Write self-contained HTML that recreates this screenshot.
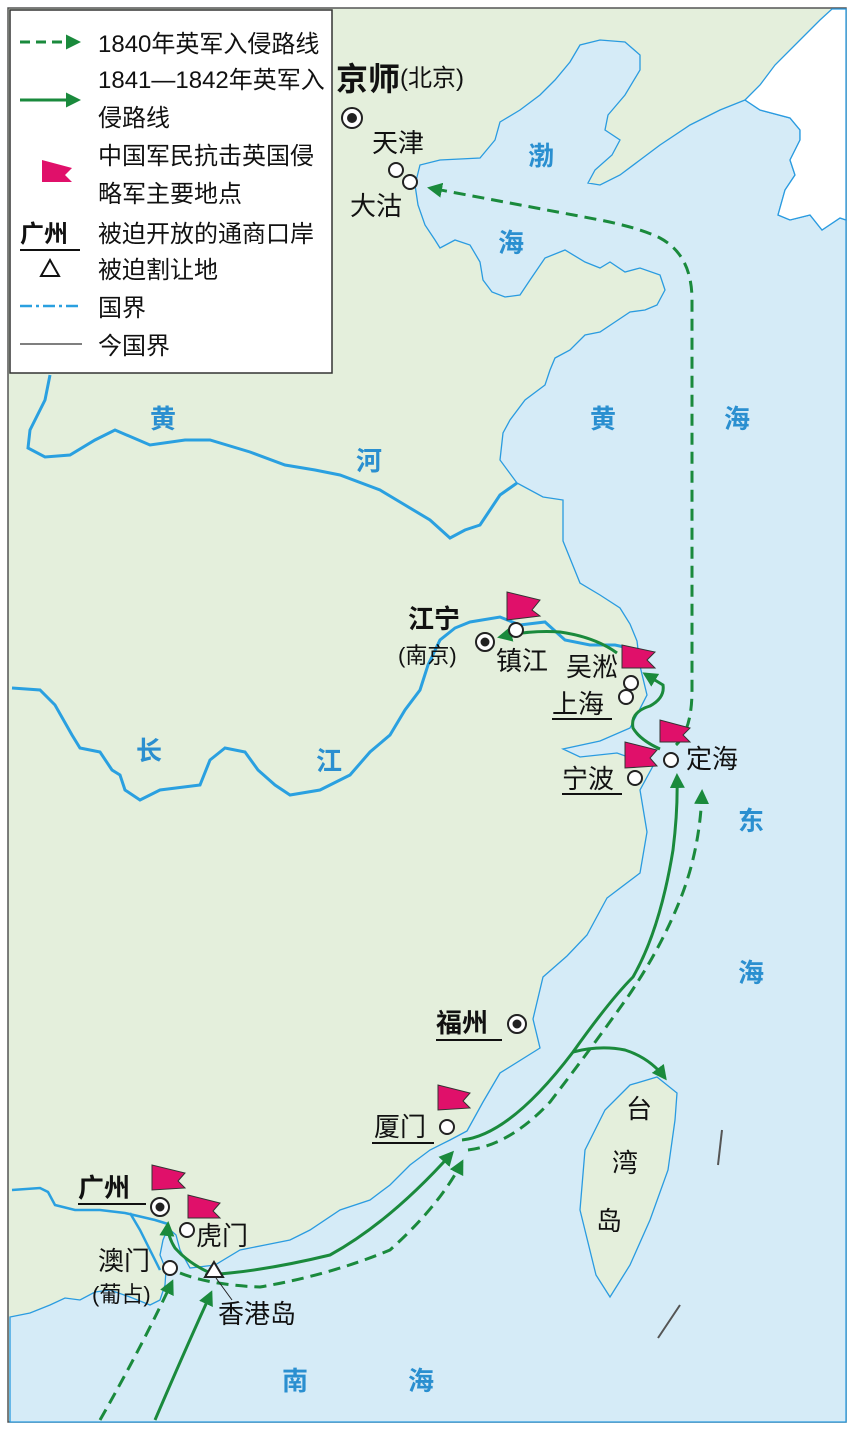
<!DOCTYPE html>
<html><head><meta charset="utf-8"><style>
body{margin:0;background:#fff}
svg{display:block}
text{font-family:"Liberation Sans","Noto Sans CJK SC",sans-serif}
</style></head><body>
<svg width="854" height="1430" viewBox="0 0 854 1430" xmlns="http://www.w3.org/2000/svg">
<defs>
<marker id="ar" viewBox="0 0 10 10" refX="8" refY="5" markerWidth="5" markerHeight="5" orient="auto"><path d="M0,0L10,5L0,10z" fill="#1a8a3c"/></marker>
</defs>
<rect x="0" y="0" width="854" height="1430" fill="#fff"/>
<rect x="8" y="8" width="838" height="1414" fill="#e4efdc" stroke="#555" stroke-width="1.5"/>
<!-- sea -->
<path d="M415,185 L420,165 L440,160 L480,158 L495,140 L500,122 L520,110 L540,95 L555,80 L570,62 L580,45 L600,40 L625,42 L640,55 L640,70 L625,95 L608,115 L605,130 L620,140 L612,155 L595,170 L588,183 L600,185 L620,175 L640,160 L660,145 L690,125 L720,110 L745,100 L760,110 L790,118 L800,130 L800,140 L790,160 L795,175 L785,190 L778,215 L790,220 L810,215 L822,230 L840,218 L846,220 L846,1422 L10,1422 L10,1317 L30,1313 L50,1305 L65,1298 L80,1300 L95,1292 L110,1290 L130,1297 L150,1305 L160,1300 L165,1285 L166,1270 L160,1255 L163,1240 L168,1228 L176,1235 L180,1250 L190,1268 L215,1265 L240,1250 L265,1245 L290,1240 L310,1230 L340,1210 L370,1200 L390,1185 L410,1165 L430,1150 L450,1140 L467,1131 L483,1102 L500,1073 L540,1048 L533,1019 L543,977 L567,956 L587,935 L607,898 L640,873 L647,832 L640,790 L653,766 L617,753 L580,757 L563,749 L600,741 L630,728 L647,695 L640,666 L637,641 L630,624 L620,608 L600,595 L580,583 L563,541 L563,500 L543,497 L517,483 L500,460 L503,433 L510,420 L525,400 L545,385 L550,370 L555,358 L570,350 L585,335 L600,332 L615,322 L630,312 L645,310 L657,305 L665,290 L660,275 L640,268 L625,272 L610,262 L600,268 L585,262 L565,250 L545,258 L530,280 L520,295 L505,297 L492,292 L483,280 L480,262 L470,245 L455,240 L440,248 L435,240 L425,225 L418,205 Z" fill="#d5ebf7" stroke="#2a9be0" stroke-width="1.3"/>
<!-- Korea white -->
<path d="M745,100 L760,85 L775,65 L800,40 L820,20 L832,9 L846,9 L846,220 L840,218 L822,230 L810,215 L790,220 L778,215 L785,190 L795,175 L790,160 L800,140 L800,130 L790,118 L760,110 Z" fill="#fff" stroke="#2a9be0" stroke-width="1.3"/>
<!-- Taiwan -->
<path d="M657,1077 L677,1093 L675,1120 L668,1170 L650,1220 L630,1265 L610,1297 L596,1275 L580,1210 L585,1150 L605,1110 L630,1085 Z" fill="#e4efdc" stroke="#2a9be0" stroke-width="1.3"/>
<!-- rivers -->
<path d="M50,375 L45,400 L30,430 L28,448 L45,457 L70,455 L95,440 L115,430 L150,445 L185,440 L210,440 L250,452 L285,465 L315,470 L340,475 L380,490 L405,505 L430,520 L450,538 L465,530 L480,525 L490,510 L500,495 L517,483" fill="none" stroke="#2aa0e0" stroke-width="3"/>
<path d="M12,688 L40,690 L55,705 L72,735 L80,748 L100,752 L112,770 L120,775 L125,790 L140,800 L160,790 L200,785 L210,760 L225,748 L245,752 L258,770 L275,785 L290,795 L320,790 L350,775 L370,752 L390,735 L405,710 L420,690 L428,665 L440,640 L455,628 L470,622 L500,617 L520,625 L545,622 L565,640 L590,645 L615,645 L638,650" fill="none" stroke="#2aa0e0" stroke-width="3"/>
<path d="M12,1190 L40,1188 L48,1192 L55,1205 L75,1210 L100,1210 L125,1213 L155,1220 L168,1224 M130,1213 L140,1230 L150,1250 L160,1270" fill="none" stroke="#2aa0e0" stroke-width="2.5"/>
<line x1="722" y1="1130" x2="718" y2="1165" stroke="#555" stroke-width="2"/>
<line x1="680" y1="1305" x2="658" y2="1338" stroke="#555" stroke-width="2"/>
<!-- routes -->
<g fill="none" stroke="#1a8a3c" stroke-width="3">
<path d="M676,745 Q692,730 692,690 L692,300 Q692,255 660,238 Q640,228 600,220 L430,188" stroke-dasharray="12,7" marker-end="url(#ar)"/>
<path d="M100,1420 Q140,1350 172,1282" stroke-dasharray="12,7" marker-end="url(#ar)"/>
<path d="M180,1273 Q210,1285 260,1287 Q330,1275 390,1250 Q440,1205 462,1162" stroke-dasharray="12,7" marker-end="url(#ar)"/>
<path d="M468,1150 Q510,1145 550,1102 Q590,1050 627,998 Q660,950 680,900 Q700,850 702,792" stroke-dasharray="12,7" marker-end="url(#ar)"/>
<path d="M155,1420 Q185,1350 211,1293" marker-end="url(#ar)"/>
<path d="M205,1275 Q260,1272 330,1255 Q390,1222 452,1153" marker-end="url(#ar)"/>
<path d="M215,1275 Q190,1265 175,1248 Q167,1235 168,1224" marker-end="url(#ar)"/>
<path d="M462,1140 Q510,1135 573,1052 Q610,1000 633,977 Q660,930 673,850 Q678,810 677,776" marker-end="url(#ar)"/>
<path d="M573,1052 Q600,1045 625,1050 Q650,1058 665,1078" marker-end="url(#ar)"/>
<path d="M660,749 Q640,740 633,728 Q630,712 650,706 Q665,698 663,685 L645,674" marker-end="url(#ar)"/>
<path d="M617,653 Q595,637 560,632 Q530,630 500,637" marker-end="url(#ar)"/>
</g>
<!-- flags -->
<g fill="#e0106a" stroke="#333" stroke-width="1">
<path d="M507,620 L507,592 L540,600 L532,610 L540,616 Z"/>
<path d="M622,668 L622,645 L655,652 L647,660 L655,668 Z"/>
<path d="M660,742 L660,720 L690,728 L683,735 L690,742 Z"/>
<path d="M625,768 L625,742 L657,750 L650,758 L657,766 Z"/>
<path d="M438,1110 L438,1085 L470,1093 L463,1101 L470,1108 Z"/>
<path d="M152,1190 L152,1165 L185,1173 L178,1181 L185,1188 Z"/>
<path d="M188,1218 L188,1195 L220,1203 L213,1211 L220,1218 Z"/>
</g>
<!-- cities -->
<g fill="#fff" stroke="#222" stroke-width="2">
<circle cx="352" cy="118" r="10"/><circle cx="352" cy="118" r="4" fill="#222"/>
<circle cx="396" cy="170" r="7"/><circle cx="410" cy="182" r="7"/>
<circle cx="485" cy="642" r="9"/><circle cx="485" cy="642" r="3.5" fill="#222"/>
<circle cx="516" cy="630" r="7"/><circle cx="631" cy="683" r="7"/><circle cx="626" cy="697" r="7"/>
<circle cx="671" cy="760" r="7"/><circle cx="635" cy="778" r="7"/>
<circle cx="517" cy="1024" r="9"/><circle cx="517" cy="1024" r="3.5" fill="#222"/>
<circle cx="447" cy="1127" r="7"/>
<circle cx="160" cy="1207" r="9"/><circle cx="160" cy="1207" r="3.5" fill="#222"/>
<circle cx="187" cy="1230" r="7"/><circle cx="170" cy="1268" r="7"/>
<path d="M214,1262 L223,1277 L205,1277 Z"/>
</g>
<line x1="216" y1="1278" x2="232" y2="1300" stroke="#222" stroke-width="1"/>
<!-- labels -->
<g font-size="26" fill="#111">
<text x="336" y="90" font-size="32" font-weight="bold">京师</text><text x="400" y="86" font-size="24">(北京)</text>
<text x="372" y="152">天津</text><text x="350" y="215">大沽</text>
<text x="408" y="628" font-weight="bold">江宁</text><text x="398" y="663" font-size="22">(南京)</text>
<text x="496" y="670">镇江</text><text x="566" y="676">吴淞</text><text x="552" y="713">上海</text>
<text x="686" y="768">定海</text><text x="562" y="788">宁波</text>
<text x="436" y="1032" font-weight="bold">福州</text>
<text x="374" y="1136">厦门</text>
<text x="78" y="1197" font-weight="bold">广州</text>
<text x="196" y="1245">虎门</text>
<text x="98" y="1270">澳门</text><text x="92" y="1302" font-size="22">(葡占)</text>
<text x="218" y="1323">香港岛</text>
<text x="626" y="1118">台</text><text x="612" y="1172">湾</text><text x="596" y="1230">岛</text>
</g>
<g stroke="#111" stroke-width="2">
<line x1="552" y1="719" x2="612" y2="719"/><line x1="562" y1="794" x2="622" y2="794"/>
<line x1="436" y1="1040" x2="502" y2="1040"/><line x1="372" y1="1143" x2="434" y2="1143"/>
<line x1="78" y1="1204" x2="146" y2="1204"/>
</g>
<g font-size="26" fill="#2a8fd0" font-weight="bold">
<text x="528" y="165">渤</text><text x="498" y="252">海</text>
<text x="590" y="428">黄</text><text x="724" y="428">海</text>
<text x="738" y="830">东</text><text x="738" y="982">海</text>
<text x="282" y="1390">南</text><text x="408" y="1390">海</text>
<text x="150" y="428">黄</text><text x="356" y="470">河</text>
<text x="136" y="760">长</text><text x="316" y="770">江</text>
</g>
<!-- legend -->
<rect x="10" y="10" width="322" height="363" fill="#fff" stroke="#333" stroke-width="1.5"/>
<g font-size="24" fill="#111">
<line x1="20" y1="42" x2="78" y2="42" stroke="#1a8a3c" stroke-width="3" stroke-dasharray="10,6" marker-end="url(#ar)"/>
<text x="98" y="52">1840年英军入侵路线</text>
<line x1="20" y1="100" x2="78" y2="100" stroke="#1a8a3c" stroke-width="3" marker-end="url(#ar)"/>
<text x="98" y="88">1841—1842年英军入</text><text x="98" y="126">侵路线</text>
<path d="M42,182 L42,160 L72,168 L65,175 L72,182 Z" fill="#e0106a"/>
<text x="98" y="164">中国军民抗击英国侵</text><text x="98" y="202">略军主要地点</text>
<text x="20" y="242" font-weight="bold">广州</text><line x1="20" y1="250" x2="80" y2="250" stroke="#111" stroke-width="2"/>
<text x="98" y="242">被迫开放的通商口岸</text>
<path d="M50,260 L59,276 L41,276 Z" fill="none" stroke="#111" stroke-width="2"/>
<text x="98" y="278">被迫割让地</text>
<line x1="20" y1="306" x2="82" y2="306" stroke="#2aa0e0" stroke-width="2.5" stroke-dasharray="12,4,3,4"/>
<text x="98" y="316">国界</text>
<line x1="20" y1="344" x2="82" y2="344" stroke="#555" stroke-width="1.5"/>
<text x="98" y="354">今国界</text>
</g>
</svg>
</body></html>
